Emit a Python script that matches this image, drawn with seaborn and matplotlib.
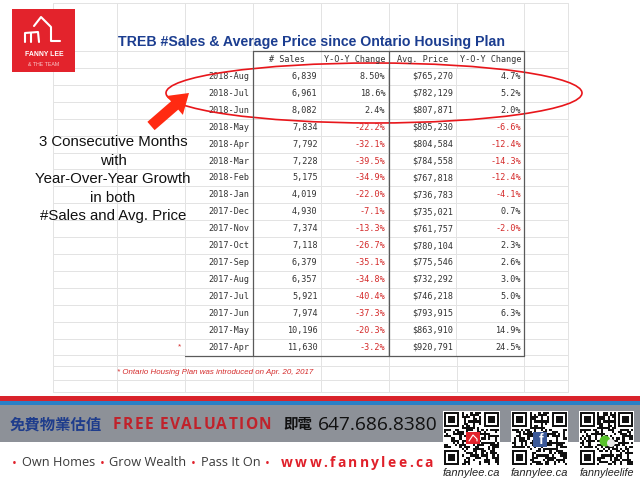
import numpy as np
import pandas as pd
import matplotlib
matplotlib.use("Agg")
import matplotlib.pyplot as plt
import seaborn as sns
from matplotlib.colors import ListedColormap
from matplotlib.patches import Rectangle, Ellipse, Polygon, Circle

# ---------------- data ----------------
months = ["2018-Aug", "2018-Jul", "2018-Jun", "2018-May", "2018-Apr", "2018-Mar",
          "2018-Feb", "2018-Jan", "2017-Dec", "2017-Nov", "2017-Oct", "2017-Sep",
          "2017-Aug", "2017-Jul", "2017-Jun", "2017-May", "2017-Apr"]
sales = [6839, 6961, 8082, 7834, 7792, 7228, 5175, 4019, 4930, 7374, 7118, 6379,
         6357, 5921, 7974, 10196, 11630]
sales_yoy = ["8.50%", "18.6%", "2.4%", "-22.2%", "-32.1%", "-39.5%", "-34.9%",
             "-22.0%", "-7.1%", "-13.3%", "-26.7%", "-35.1%", "-34.8%", "-40.4%",
             "-37.3%", "-20.3%", "-3.2%"]
avg_price = [765270, 782129, 807871, 805230, 804584, 784558, 767818, 736783,
             735021, 761757, 780104, 775546, 732292, 746218, 793915, 863910, 920791]
price_yoy = [4.7, 5.2, 2.0, -6.6, -12.4, -14.3, -12.4, -4.1, 0.7, -2.0, 2.3, 2.6,
             3.0, 5.0, 6.3, 14.9, 24.5]
headers = ["", "# Sales", "Y-O-Y Change", "Avg. Price", "Y-O-Y Change"]
title = "TREB #Sales & Average Price since Ontario Housing Plan"
callout_lines = ["3 Consecutive Months", "with", "Year-Over-Year Growth",
                 "in both", "#Sales and Avg. Price"]
footnote = "* Ontario Housing Plan was introduced on Apr. 20, 2017"
slogan = ["\u2022", "Own Homes", "\u2022", "Grow Wealth", "\u2022", "Pass It On", "\u2022"]
website = "www.fannylee.ca"
qr_labels = ["fannylee.ca", "fannylee.ca", "fannyleelife"]

# ---------------- style ----------------
sns.set_theme(style="white")
plt.rcParams["font.family"] = ["Liberation Sans", "Noto Sans CJK TC", "DejaVu Sans"]

GRID = "#e3e3e3"
RED = "#d42a2a"
MONO = "DejaVu Sans Mono"

fig = plt.figure(figsize=(6.4, 4.88), dpi=100)
fig.patch.set_facecolor("white")
R = fig.canvas.get_renderer()


def box(x0, y0, x1, y1):
    return [x0 / 640, 1 - y1 / 488, (x1 - x0) / 640, (y1 - y0) / 488]


def pix_axes(z):
    a = fig.add_axes([0, 0, 1, 1], zorder=z)
    a.set_xlim(0, 640)
    a.set_ylim(488, 0)
    a.axis("off")
    a.patch.set_alpha(0)
    return a


def tw(t):
    return t.get_window_extent(renderer=R).width


def fit_text(ax, x, y, s, width, base=10, ha="center", **kw):
    t = ax.text(x, y, s, ha=ha, va="center", fontsize=base, **kw)
    t.set_fontsize(base * width / tw(t))
    return t


def tracked(ax, x0, x1, y, tokens, colors, fontsize, **kw):
    ts, ws = [], []
    for tok, c in zip(tokens, colors):
        if tok == " ":
            a = ax.text(0, y, "EE", fontsize=fontsize, **kw)
            b = ax.text(0, y, "E E", fontsize=fontsize, **kw)
            w = tw(b) - tw(a)
            a.remove(); b.remove()
            ts.append(None); ws.append(w)
            continue
        t = ax.text(0, y, tok, ha="left", va="center", fontsize=fontsize, color=c, **kw)
        ts.append(t); ws.append(tw(t))
    extra = (x1 - x0 - sum(ws)) / (len(tokens) - 1)
    x = x0
    for t, w in zip(ts, ws):
        if t is not None:
            t.set_x(x)
        x += w + extra


# ---------------- spreadsheet background grid ----------------
bg = pix_axes(0)
vx = [53, 117, 185, 253, 321, 389, 457, 524, 568]
hy = [3, 51] + [68 + 16.91 * k for k in range(18)] + [366, 380, 392]
for x in vx:
    bg.plot([x, x], [3, 392], color=GRID, lw=0.7)
for y in hy:
    bg.plot([53, 568], [y, y], color=GRID, lw=0.7)

# ---------------- data table via seaborn heatmap ----------------
df = pd.DataFrame({
    "Month": months,
    "# Sales": [f"{v:,}" for v in sales],
    "Sales YoY": sales_yoy,
    "Avg. Price": [f"${v:,}" for v in avg_price],
    "Price YoY": [f"{v:.1f}%" for v in price_yoy],
})
labels = df.values
tab = fig.add_axes(box(185, 68, 524, 355.5), zorder=1)
sns.heatmap(np.zeros(labels.shape), vmin=0, vmax=1, cmap=ListedColormap(["white"]),
            cbar=False, annot=labels, fmt="", linewidths=0.7, linecolor=GRID,
            xticklabels=False, yticklabels=False, ax=tab,
            annot_kws=dict(family=MONO, size=6.1, color="#333333"))
for t in tab.texts:
    x, y = t.get_position()
    t.set_x(int(x) + 0.955)
    t.set_ha("right")
    if t.get_text().startswith("-"):
        t.set_color(RED)

# ---------------- overlay ----------------
ov = pix_axes(5)
col_centers = [219, 287, 355, 423, 490.5]
for cx, h in zip(col_centers, headers):
    if h:
        ov.text(cx, 60, h, ha="center", va="center", family=MONO, fontsize=6.1, color="#333333")

dark = "#5a5a5a"
for x in [253, 389, 524]:
    ov.plot([x, x], [51, 355.5], color=dark, lw=0.9)
ov.plot([253, 524], [51, 51], color=dark, lw=0.9)
ov.plot([185, 524], [355.5, 355.5], color=dark, lw=0.9)

# title
fit_text(ov, 311.5, 42, title, 387, fontweight="bold", color="#1b3d90")

# star and footnote
ov.text(180, 347, "*", ha="center", va="center", color=RED, fontsize=6)
fit_text(ov, 117, 373, footnote, 195, ha="left", fontstyle="italic", color=RED)

# callout text
ref = fit_text(ov, 113, 179, callout_lines[2], 156, color="#111111")
fs = ref.get_fontsize()
ref.remove()
for line, y in zip(callout_lines, [142, 161, 179, 197.5, 216]):
    ov.text(113, y, line, ha="center", va="center", fontsize=fs, color="#111111")

# ellipse highlight
ov.add_patch(Ellipse((374, 93), 416, 60, fill=False, edgecolor="#e8161b", lw=1.2))

# arrow
tail = np.array([151.0, 126.0]); tip = np.array([189.0, 93.0])
d = (tip - tail) / np.linalg.norm(tip - tail)
n = np.array([-d[1], d[0]])
hb = tip - d * 19
pts = [tail + n * 5.5, hb + n * 5.5, hb + n * 12.5, tip, hb - n * 12.5, hb - n * 5.5, tail - n * 5.5]
ov.add_patch(Polygon(pts, closed=True, facecolor="#ff2a12", edgecolor="none"))

# logo
ov.add_patch(Rectangle((12, 9), 63, 63, facecolor="#e3232c", edgecolor="none"))
for path in [[(25, 42), (25, 33), (38, 32), (39, 42)],
             [(31, 33), (31, 42)],
             [(34, 26), (41, 17), (51, 27), (51, 41), (60, 41)]]:
    xs, ys = zip(*path)
    ov.plot(xs, ys, color="white", lw=1.5, solid_capstyle="round", solid_joinstyle="round")
fit_text(ov, 44, 55, "FANNY LEE", 38, fontweight="bold", color="white")
fit_text(ov, 44, 64, "& THE TEAM", 31, color="#f8c9cb")

# ---------------- footer ----------------
ov.add_patch(Rectangle((0, 396), 640, 5, facecolor="#d9232b", edgecolor="none"))
ov.add_patch(Rectangle((0, 401), 640, 3.5, facecolor="#2a80c6", edgecolor="none"))
ov.add_patch(Rectangle((0, 404.5), 640, 37.5, facecolor="#8d9198", edgecolor="none"))

fit_text(ov, 10, 425, "免費物業估值", 92, ha="left", family="Noto Sans CJK TC",
         fontweight="bold", color="#1f3d8c")
tracked(ov, 113, 271, 425, list("FREE EVALUATION"), ["#c0222b"] * 15, 11.2,
        family="Open Sans", fontweight="bold")
fit_text(ov, 283, 425, "即電", 29, ha="left", family="Noto Sans CJK TC",
         fontweight="bold", color="#111111")
fit_text(ov, 318, 425, "647.686.8380", 119, ha="left", family="Open Sans", color="#111111")

tracked(ov, 12, 270, 463, slogan,
        ["#e0202a" if s == "\u2022" else "#3a3a3a" for s in slogan], 9.2, family="Open Sans")
tracked(ov, 281, 433, 463, list(website), ["#e0202a"] * len(website), 10.0,
        family="Open Sans", fontweight="bold")


def qr_matrix(s, n=25):
    bits = [int(b) for ch in s.encode() for b in f"{ch:08b}"]
    M = np.zeros((n, n), int)
    k = 0
    for i in range(n):
        for j in range(n):
            M[i, j] = bits[k % len(bits)] ^ int((i * j) % 3 == 0)
            k += 1
    for r, c in [(0, 0), (0, n - 7), (n - 7, 0)]:
        r0, r1 = max(r - 1, 0), min(r + 8, n)
        c0, c1 = max(c - 1, 0), min(c + 8, n)
        M[r0:r1, c0:c1] = 0
        M[r:r + 7, c:c + 7] = 1
        M[r + 1:r + 6, c + 1:c + 6] = 0
        M[r + 2:r + 5, c + 2:c + 5] = 1
    return M


qr_boxes = [(444, 412, 499, 465), (512, 412, 567, 465), (580, 412, 633, 465)]
qr_sources = ["https://www.fannylee.ca", "https://facebook.com/fannylee.ca", "weixin://fannyleelife"]
for (x0, y0, x1, y1), src, lab in zip(qr_boxes, qr_sources, qr_labels):
    ov.add_patch(Rectangle((x0 - 1, y0 - 1), x1 - x0 + 2, y1 - y0 + 2, facecolor="white",
                           edgecolor="none"))
    q = fig.add_axes(box(x0, y0, x1, y1), zorder=6)
    sns.heatmap(qr_matrix(src), vmin=0, vmax=1, cmap=ListedColormap(["white", "#111111"]),
                cbar=False, xticklabels=False, yticklabels=False, ax=q)
    fit_text(ov, (x0 + x1) / 2, 473.5, lab, x1 - x0 + 2, fontstyle="italic", color="#222222")

ic = pix_axes(7)
ic.add_patch(Rectangle((466, 432), 14, 12, facecolor="#e3232c", edgecolor="none"))
ic.plot([469, 473, 477, 477], [441, 435, 439, 441], color="white", lw=0.8)
ic.add_patch(Rectangle((533, 432), 14, 15, facecolor="#3b5998", edgecolor="none"))
ic.text(541.5, 440, "f", ha="center", va="center", color="white", fontweight="bold", fontsize=10)
ic.add_patch(Circle((605, 441), 5.5, facecolor="#58c22c", edgecolor="none"))
ic.add_patch(Circle((611, 443), 4.0, facecolor="#e8e8e8", edgecolor="none"))

fig.savefig("out.png", dpi=100)
